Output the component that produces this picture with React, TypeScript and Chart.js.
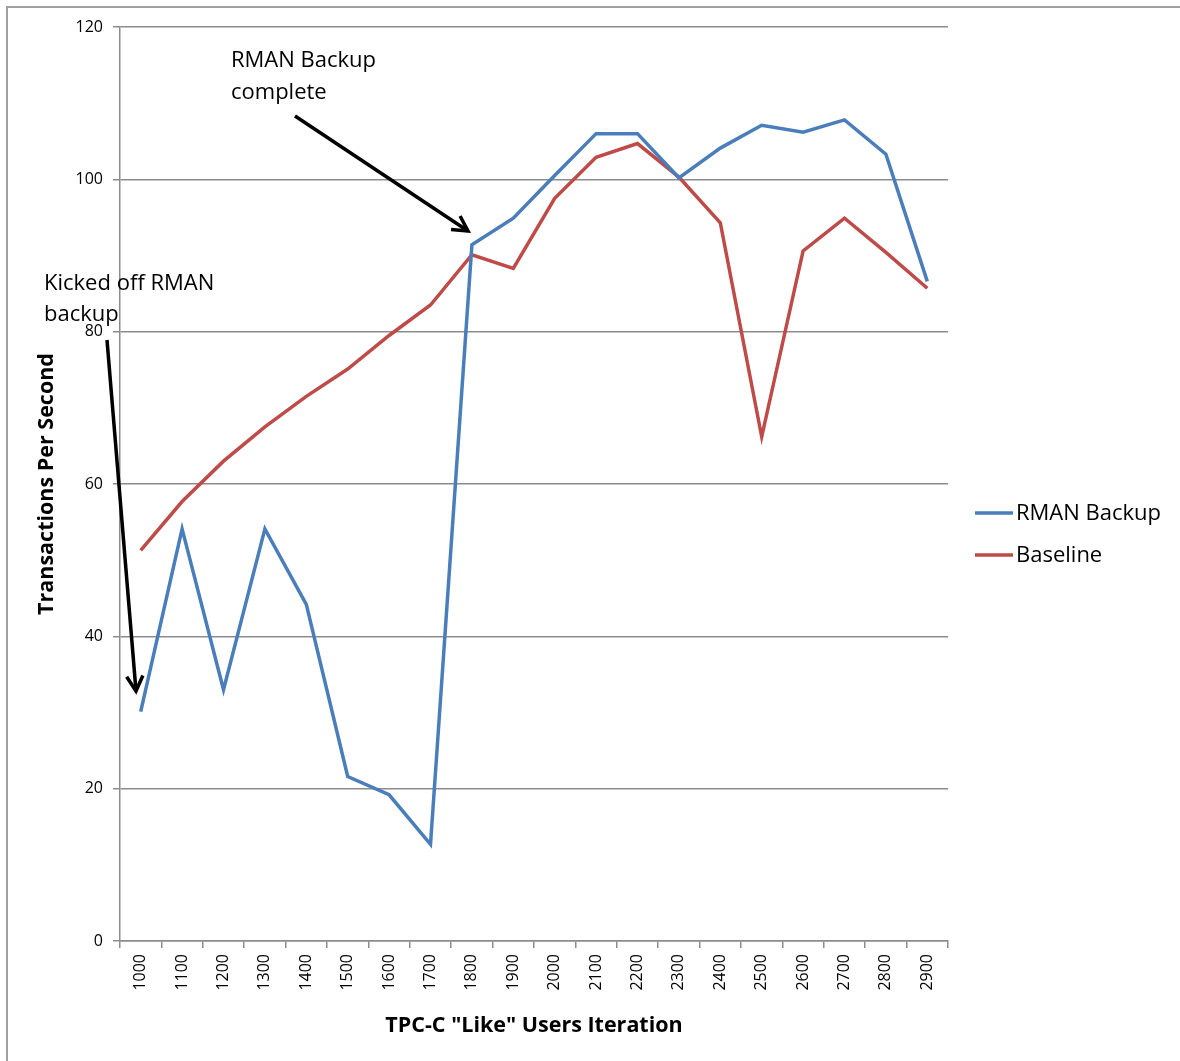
import React, { useEffect, useRef } from "react";
import { Chart, registerables } from "chart.js";

Chart.register(...registerables);

const categories = ["1000","1100","1200","1300","1400","1500","1600","1700","1800","1900","2000","2100","2200","2300","2400","2500","2600","2700","2800","2900"];
const rmanBackup = [30.1, 54.1, 33.0, 54.1, 44.2, 21.6, 19.2, 12.7, 91.4, 94.9, 100.5, 106.0, 106.0, 100.2, 104.1, 107.1, 106.2, 107.8, 103.3, 86.6];
const baseline = [51.3, 57.7, 63.0, 67.5, 71.5, 75.1, 79.5, 83.5, 90.1, 88.3, 97.5, 102.9, 104.7, 100.3, 94.3, 66.2, 90.6, 94.9, 90.4, 85.7];
const seriesNames = ["RMAN Backup", "Baseline"];
const seriesColors = ["#4A7EBB", "#BE4B48"];
const xTitle = 'TPC-C "Like" Users Iteration';
const yTitle = "Transactions Per Second";
const noteComplete = ["RMAN Backup", "complete"];
const noteKicked = ["Kicked off RMAN", "backup"];

const FONT = "'Open Sans', sans-serif";

function drawArrow(ctx: CanvasRenderingContext2D, x1: number, y1: number, x2: number, y2: number) {
  ctx.save();
  ctx.strokeStyle = "#000";
  ctx.lineWidth = 3.5;
  ctx.lineCap = "butt";
  ctx.beginPath();
  ctx.moveTo(x1, y1);
  ctx.lineTo(x2, y2);
  ctx.stroke();
  const ang = Math.atan2(y2 - y1, x2 - x1);
  const len = 17;
  const spread = 0.5;
  ctx.lineJoin = "miter";
  ctx.beginPath();
  ctx.moveTo(x2 - len * Math.cos(ang - spread), y2 - len * Math.sin(ang - spread));
  ctx.lineTo(x2, y2);
  ctx.lineTo(x2 - len * Math.cos(ang + spread), y2 - len * Math.sin(ang + spread));
  ctx.stroke();
  ctx.restore();
}

const decorPlugin = {
  id: "decor",
  afterDraw(chart: any) {
    const ctx: CanvasRenderingContext2D = chart.ctx;
    const area = chart.chartArea;
    ctx.save();
    // outer border (left and top only visible)
    ctx.strokeStyle = "#A0A0A0";
    ctx.lineWidth = 2;
    ctx.beginPath();
    ctx.moveTo(7, chart.height);
    ctx.lineTo(7, 7);
    ctx.lineTo(chart.width, 7);
    ctx.stroke();

    // axis titles
    ctx.fillStyle = "#000";
    ctx.font = `bold 21.5px ${FONT}`;
    ctx.textAlign = "center";
    ctx.textBaseline = "middle";
    ctx.fillText(xTitle, (area.left + area.right) / 2, 1026);
    ctx.save();
    ctx.translate(47, (area.top + area.bottom) / 2);
    ctx.rotate(-Math.PI / 2);
    ctx.fillText(yTitle, 0, 0);
    ctx.restore();

    // annotations
    ctx.font = `22px ${FONT}`;
    ctx.textAlign = "left";
    ctx.textBaseline = "middle";
    ctx.fillText(noteComplete[0], 231, 61);
    ctx.fillText(noteComplete[1], 231, 93);
    ctx.fillText(noteKicked[0], 44, 284);
    ctx.fillText(noteKicked[1], 44, 315);

    drawArrow(ctx, 295, 116, 468, 231);
    drawArrow(ctx, 107, 340, 136, 691);

    // legend
    const ly = [513, 555];
    for (let i = 0; i < seriesNames.length; i++) {
      ctx.strokeStyle = seriesColors[i];
      ctx.lineWidth = 3.5;
      ctx.beginPath();
      ctx.moveTo(975, ly[i]);
      ctx.lineTo(1013, ly[i]);
      ctx.stroke();
      ctx.fillStyle = "#000";
      ctx.fillText(seriesNames[i], 1016, ly[i] + 1);
    }
    ctx.restore();
  },
};

export default function App() {
  const canvasRef = useRef<HTMLCanvasElement | null>(null);
  useEffect(() => {
    if (!canvasRef.current) return;
    const chart = new Chart(canvasRef.current, {
      type: "line",
      data: {
        labels: categories,
        datasets: [
          {
            label: seriesNames[0],
            data: rmanBackup,
            borderColor: seriesColors[0],
            backgroundColor: seriesColors[0],
            borderWidth: 3.5,
            pointRadius: 0,
            tension: 0,
          },
          {
            label: seriesNames[1],
            data: baseline,
            borderColor: seriesColors[1],
            backgroundColor: seriesColors[1],
            borderWidth: 3.5,
            pointRadius: 0,
            tension: 0,
          },
        ],
      },
      options: {
        animation: false,
        responsive: false,
        devicePixelRatio: 1,
        layout: { padding: { left: 0, right: 232, top: 27, bottom: 0 } },
        plugins: {
          legend: { display: false },
          tooltip: { enabled: false },
        },
        scales: {
          x: {
            type: "category",
            offset: true,
            grid: {
              offset: true,
              drawOnChartArea: false,
              drawTicks: true,
              tickLength: 7,
              color: "#8C8C8C",
              lineWidth: 1.5,
            },
            border: { color: "#8C8C8C", width: 1.5 },
            ticks: {
              minRotation: 90,
              maxRotation: 90,
              autoSkip: false,
              padding: 6,
              color: "#000",
              font: { family: FONT, size: 16 },
            },
            afterFit: (scale: any) => {
              scale.height = 120;
            },
          },
          y: {
            min: 0,
            max: 120,
            ticks: {
              stepSize: 20,
              padding: 10,
              color: "#000",
              font: { family: FONT, size: 16 },
            },
            grid: {
              color: "#8C8C8C",
              lineWidth: 1.5,
              drawTicks: true,
              tickLength: 7,
            },
            border: { color: "#8C8C8C", width: 1.5 },
            afterFit: (scale: any) => {
              scale.width = 120;
            },
          },
        },
      },
      plugins: [decorPlugin],
    } as any);
    return () => chart.destroy();
  }, []);
  return (
    <div style={{ position: "absolute", left: 0, top: 0, width: 1180, height: 1061, background: "#fff" }}>
      <canvas ref={canvasRef} width={1180} height={1061} style={{ display: "block" }} />
    </div>
  );
}
